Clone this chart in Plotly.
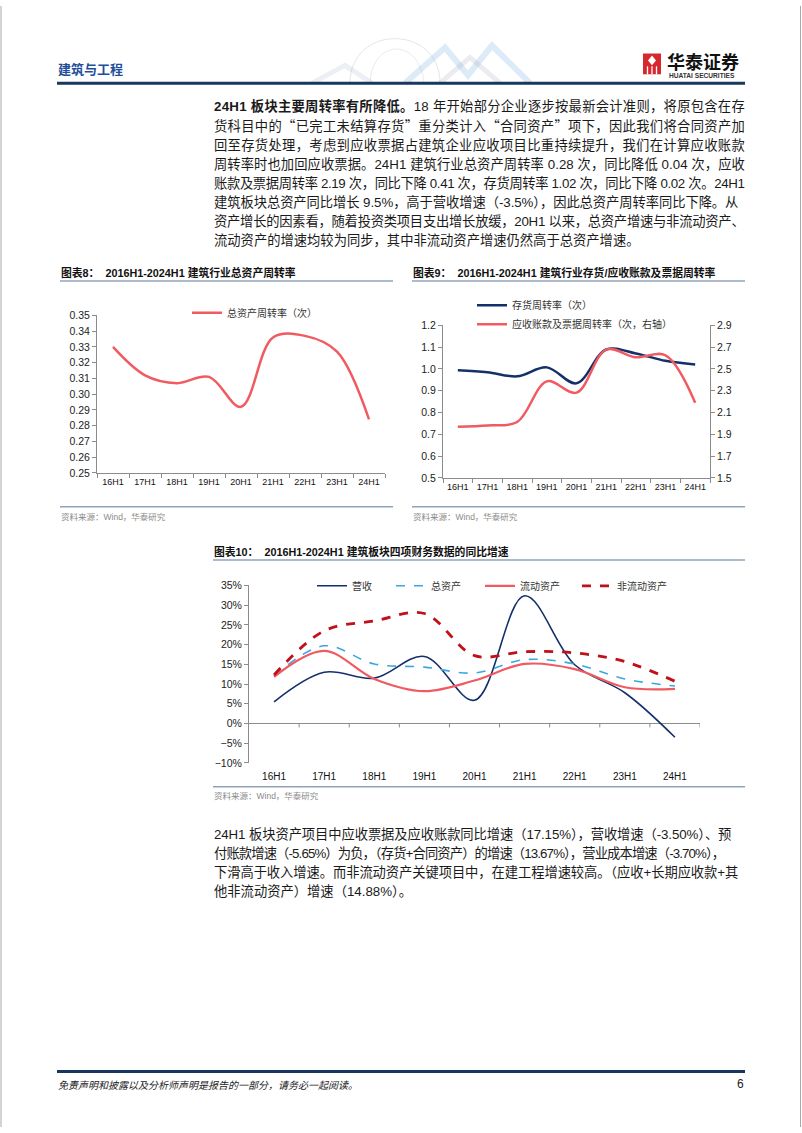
import re
import plotly.graph_objects as go

W, H = 802, 1133

def px(x):
    return x / W

def py(y):
    return 1 - y / H

def path(points, close=False):
    s = "M" + " L".join(f"{px(x):.5f},{py(y):.5f}" for x, y in points)
    return s + (" Z" if close else "")

CJK = "Noto Sans CJK SC"
FONT = "Liberation Sans, Noto Sans CJK SC"
AX = "#8C8C8C"
RED = "#F05A60"
NAVY = "#13306B"
LIGHT_BLUE = "#3BA7DF"
DARK_RED = "#C0101A"

# ---- data ----
periods = ["16H1", "17H1", "18H1", "19H1", "20H1", "21H1", "22H1", "23H1", "24H1"]
asset_turnover = [0.330, 0.312, 0.307, 0.311, 0.292, 0.336, 0.337, 0.327, 0.284]
inventory_turnover = [0.994, 0.985, 0.966, 1.007, 0.934, 1.089, 1.071, 1.037, 1.020]
receivable_turnover = [1.970, 1.982, 2.013, 2.386, 2.282, 2.677, 2.607, 2.625, 2.190]
revenue_yoy = [5.5, 13.0, 11.5, 17.0, 5.9, 32.4, 14.9, 7.8, -3.5]
total_assets_yoy = [12.0, 19.7, 15.1, 14.3, 12.8, 16.2, 15.1, 11.3, 9.5]
current_assets_yoy = [11.8, 18.4, 11.3, 8.2, 10.9, 15.1, 13.8, 9.2, 8.8]
noncurrent_assets_yoy = [12.3, 23.5, 26.0, 27.9, 17.2, 18.2, 17.9, 15.7, 10.7]

QL = '<span style="font-family:\'Noto Sans CJK SC\'">“</span>'
QR = '<span style="font-family:\'Noto Sans CJK SC\'">”</span>'

para1 = [
    "<b>24H1 板块主要周转率有所降低。</b>18 年开始部分企业逐步按最新会计准则，将原包含在存",
    f"货科目中的{QL}已完工未结算存货{QR}重分类计入{QL}合同资产{QR}项下，因此我们将合同资产加",
    "回至存货处理，考虑到应收票据占建筑企业应收项目比重持续提升，我们在计算应收账款",
    "周转率时也加回应收票据。24H1 建筑行业总资产周转率 0.28 次，同比降低 0.04 次，应收",
    "账款及票据周转率 2.19 次，同比下降 0.41 次，存货周转率 1.02 次，同比下降 0.02 次。24H1",
    "建筑板块总资产同比增长 9.5%，高于营收增速（-3.5%），因此总资产周转率同比下降。从",
    "资产增长的因素看，随着投资类项目支出增长放缓，20H1 以来，总资产增速与非流动资产、",
    "流动资产的增速均较为同步，其中非流动资产增速仍然高于总资产增速。",
]
para2 = [
    "24H1 板块资产项目中应收票据及应收账款同比增速（17.15%），营收增速（-3.50%）、预",
    "付账款增速（-5.65%）为负，（存货+合同资产）的增速（13.67%），营业成本增速（-3.70%），",
    "下滑高于收入增速。而非流动资产关键项目中，在建工程增速较高。（应收+长期应收款+其",
    "他非流动资产）增速（14.88%）。",
]

ARIAL = {" ": 0.278, ".": 0.278, ",": 0.278, "H": 0.722, "%": 0.889, "-": 0.333,
         "(": 0.333, ")": 0.333, "+": 0.584}

def char_w(c):
    if c.isdigit():
        return 0.556
    return ARIAL.get(c, 1.0)

def justify(s, size, width):
    plain = re.sub(r"<[^>]+>", "", s)
    natural = sum(char_w(c) for c in plain) * size
    ls = (width - natural) / (len(plain) - 1)
    return f'<span style="letter-spacing:{ls:.2f}px">{s}</span>'

fig = go.Figure()

# chart 8
fig.add_trace(go.Scatter(
    x=periods, y=asset_turnover, mode="lines", name="总资产周转率（次）",
    line=dict(color=RED, width=2.5, shape="spline", smoothing=1),
    xaxis="x", yaxis="y", legend="legend"))

# chart 9
fig.add_trace(go.Scatter(
    x=periods, y=inventory_turnover, mode="lines", name="存货周转率（次）",
    line=dict(color=NAVY, width=2.5, shape="spline", smoothing=1),
    xaxis="x2", yaxis="y2", legend="legend2"))
fig.add_trace(go.Scatter(
    x=periods, y=receivable_turnover, mode="lines", name="应收账款及票据周转率（次，右轴）",
    line=dict(color=RED, width=2.5, shape="spline", smoothing=1),
    xaxis="x2", yaxis="y3", legend="legend2"))

# chart 10
series10 = [
    ("营收", revenue_yoy, NAVY, "solid", 1.6, 34),
    ("总资产", total_assets_yoy, LIGHT_BLUE, "dash", 1.6, 44),
    ("流动资产", current_assets_yoy, RED, "solid", 2.2, 52),
    ("非流动资产", noncurrent_assets_yoy, DARK_RED, "dash", 2.8, 52),
]
for name, vals, color, dash, width, lw in series10:
    fig.add_trace(go.Scatter(
        x=periods, y=vals, mode="lines", name=name, legendwidth=lw,
        line=dict(color=color, width=width, dash=dash, shape="spline", smoothing=1),
        xaxis="x3", yaxis="y4", legend="legend3"))

tick_font = dict(family=FONT, size=10.5, color="#222")
xcat = dict(type="category", range=[-0.5, 8.5], showline=True, linecolor=AX, linewidth=1,
            ticks="outside", tickson="boundaries", ticklen=4, tickcolor=AX, showgrid=False,
            tickangle=0, tickfont=dict(family=FONT, size=9, color="#111"), fixedrange=True)
yval = dict(showline=True, linecolor=AX, linewidth=1, ticks="outside", ticklen=4,
            tickcolor=AX, showgrid=False, zeroline=False, tickfont=tick_font, fixedrange=True)

legend_common = dict(bgcolor="rgba(0,0,0,0)", font=dict(family=CJK, size=10, color="#333"),
                     xanchor="left", yanchor="middle", itemclick=False, itemdoubleclick=False)

fig.update_layout(
    width=W, height=H, margin=dict(l=0, r=0, t=0, b=0),
    paper_bgcolor="white", plot_bgcolor="white", showlegend=True,
    xaxis=dict(xcat, domain=[px(97), px(385)], anchor="y"),
    yaxis=dict(yval, domain=[py(472), py(312.7)], anchor="x", range=[0.25, 0.35],
               dtick=0.01, tickformat=".2f"),
    xaxis2=dict(xcat, domain=[px(443), px(710)], anchor="y2"),
    yaxis2=dict(yval, domain=[py(477), py(322.7)], anchor="x2", range=[0.5, 1.2],
                dtick=0.1, tickformat=".1f"),
    yaxis3=dict(yval, overlaying="y2", side="right", anchor="x2", range=[1.5, 2.9],
                tick0=1.5, dtick=0.2, tickformat=".1f"),
    xaxis3=dict(type="category", range=[-0.5, 8.5], domain=[px(249), px(700)], anchor="y4",
                showline=False, ticks="", showgrid=False, fixedrange=True, ticklabelstandoff=6,
                tickangle=0, tickfont=dict(family=FONT, size=10, color="#111")),
    yaxis4=dict(yval, domain=[py(765), py(585.7)], anchor="x3", range=[-10, 35],
                dtick=5, ticksuffix="%", zeroline=True, zerolinecolor=AX, zerolinewidth=1),
    legend=dict(legend_common, x=px(187), y=py(310), orientation="v"),
    legend2=dict(legend_common, x=px(472), y=py(312), orientation="v"),
    legend3=dict(legend_common, x=px(312), y=py(586), orientation="h"),
)

shapes = []
annotations = []

def hline(x0, x1, y, color, width):
    shapes.append(dict(type="line", xref="paper", yref="paper", x0=px(x0), x1=px(x1),
                       y0=py(y), y1=py(y), line=dict(color=color, width=width)))

def text(x, y, s, size, color="#1a1a1a", anchor="left", family=FONT):
    annotations.append(dict(x=px(x), y=py(y), xref="paper", yref="paper", text=s,
                            showarrow=False, xanchor=anchor, yanchor="middle",
                            font=dict(family=family, size=size, color=color)))

# page edges
for xe in (1, 800.5):
    shapes.append(dict(type="line", xref="paper", yref="paper", x0=px(xe), x1=px(xe),
                       y0=0, y1=1, line=dict(color="#A8A8A8", width=1)))

# header decoration (faint globe + ridges)
shapes.append(dict(type="path", xref="paper", yref="paper", layer="below",
                   path=f"M{px(350):.5f},{py(78):.5f} C{px(350):.5f},{py(18):.5f} {px(440):.5f},{py(18):.5f} {px(440):.5f},{py(78):.5f}",
                   line=dict(color="#E2E6EB", width=1)))
shapes.append(dict(type="path", xref="paper", yref="paper", layer="below",
                   path=f"M{px(370):.5f},{py(78):.5f} C{px(372):.5f},{py(32):.5f} {px(420):.5f},{py(32):.5f} {px(424):.5f},{py(78):.5f}",
                   line=dict(color="#E8EBEF", width=1)))
shapes.append(dict(type="path", xref="paper", yref="paper", layer="below",
                   path=path([(312, 78), (345, 60), (372, 78)]),
                   line=dict(color="rgba(170,182,200,0.22)", width=5)))
shapes.append(dict(type="path", xref="paper", yref="paper", layer="below",
                   path=path([(405, 78), (445, 42), (468, 70), (492, 40), (530, 78)]),
                   line=dict(color="rgba(110,170,220,0.24)", width=6)))
shapes.append(dict(type="path", xref="paper", yref="paper", layer="below",
                   path=path([(440, 78), (470, 52), (500, 78)]),
                   line=dict(color="rgba(150,160,175,0.2)", width=5)))

# header
text(56, 63, "<b>建筑与工程</b>", 13, color="#1F4E9A", family=CJK)
hline(57, 745, 78, "#17375E", 3)
shapes.append(dict(type="rect", xref="paper", yref="paper", x0=px(643), x1=px(661),
                   y0=py(69), y1=py(48), fillcolor="#D7282F", line=dict(width=0)))
shapes.append(dict(type="path", xref="paper", yref="paper",
                   path=path([(652, 50), (656, 55), (652, 60), (648, 55)], close=True),
                   fillcolor="white", line=dict(width=0)))
for xv in (647.5, 652, 656.5):
    shapes.append(dict(type="line", xref="paper", yref="paper", x0=px(xv), x1=px(xv),
                       y0=py(61), y1=py(69), line=dict(color="white", width=1.3)))
text(665, 56, "<b>华泰证券</b>", 18, color="#111", family=CJK)
text(667, 70.5, "<b>HUATAI SECURITIES</b>", 6.6, color="#333")

BODY = 13.3
TEXT_W = 531

# paragraph 1
for i, line in enumerate(para1):
    s = justify(line, BODY, TEXT_W) if i < len(para1) - 1 else line
    text(212, 101.5 + 19.3 * i, s, BODY)

# chart titles / rules / sources
titles = [
    (60, 393, 269.5, "图表8：  2016H1-2024H1 建筑行业总资产周转率", 506, 516),
    (412, 745, 269.5, "图表9：  2016H1-2024H1 建筑行业存货/应收账款及票据周转率", 506, 516),
    (213, 745, 551.5, "图表10：  2016H1-2024H1 建筑板块四项财务数据的同比增速", 789, 798.5),
]
for x0, x1, ty, title, by, sy in titles:
    text(x0 - 1, ty, f"<b>{title}</b>", 10.8, color="#111")
    hline(x0, x1, ty + 8.5, "#8FA3BC", 1.5)
    hline(x0, x1, by, "#8FA3BC", 1.5)
    text(x0 - 1, sy, "资料来源：Wind，华泰研究", 8.5, color="#8A8A8A")

# chart 10: category boundary ticks on the zero line
for k in range(len(periods)):
    shapes.append(dict(type="line", xref="x3", yref="y4", x0=k + 0.5, x1=k + 0.5,
                       y0=0, y1=-1, line=dict(color=AX, width=1)))

# paragraph 2
for i, line in enumerate(para2):
    s = justify(line, BODY, TEXT_W) if i < len(para2) - 1 else line
    text(212, 837 + 19.2 * i, s, BODY)

# footer
hline(57, 745, 1077, "#17375E", 3)
text(56, 1090, "<i>免责声明和披露以及分析师声明是报告的一部分，请务必一起阅读。</i>", 10, color="#222", family=CJK)
text(746, 1090, "6", 12, color="#222", anchor="right")

fig.update_layout(shapes=shapes, annotations=annotations)

fig.write_html("out.html", config={"displayModeBar": False},
               post_script="document.body.style.margin='0';document.body.style.overflow='hidden';")
